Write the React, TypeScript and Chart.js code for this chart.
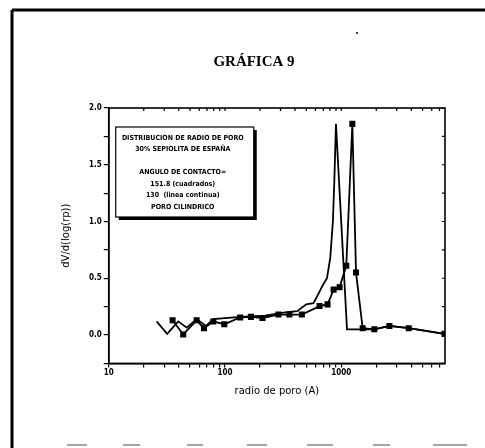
import React, { useEffect, useRef } from "react";
import { Chart, registerables } from "chart.js";

Chart.register(...registerables);

const TITLE = "GRÁFICA 9";
const X_TITLE = "radio de poro (A)";
const Y_TITLE = "dV/d(log(rp))";
const LEGEND_LINES = [
  "DISTRIBUCION DE RADIO DE PORO",
  "30% SEPIOLITA DE ESPAÑA",
  "",
  "ANGULO DE CONTACTO=",
  "151.8 (cuadrados)",
  "130  (linea continua)",
  "PORO CILINDRICO",
];

// continuous line (contact angle 130)
const lineRadius = [25.8, 31.8, 39.6, 46.8, 57, 68.6, 79.3, 135, 221, 329, 418, 499, 577, 634, 686, 753, 804, 847, 871, 900, 1120, 1508, 1923, 2594, 3802, 7727];
const lineValues = [0.12, 0.01, 0.12, 0.065, 0.14, 0.08, 0.14, 0.16, 0.17, 0.2, 0.21, 0.27, 0.28, 0.36, 0.43, 0.5, 0.68, 1.0, 1.35, 1.86, 0.05, 0.05, 0.05, 0.08, 0.06, 0.01];

// squares (contact angle 151.8)
const squareRadius = [35.4, 43.7, 57, 65.9, 79.3, 98.6, 135, 167, 210, 288, 358, 458, 650, 762, 859, 967, 1104, 1245, 1339, 1527, 1923, 2594, 3802, 7727];
const squareValues = [0.13, 0.005, 0.13, 0.06, 0.12, 0.095, 0.155, 0.16, 0.15, 0.18, 0.18, 0.18, 0.255, 0.27, 0.4, 0.42, 0.61, 1.86, 0.55, 0.06, 0.05, 0.08, 0.06, 0.01];

const X_TICKS = [10, 20, 30, 40, 50, 60, 70, 80, 90, 100, 200, 300, 400, 500, 600, 700, 800, 900, 1000, 2000, 3000, 4000, 5000, 6000, 7000];
const X_LABELS = [10, 100, 1000];
const Y_TICKS = [-0.25, 0, 0.25, 0.5, 0.75, 1, 1.25, 1.5, 1.75, 2];
const Y_LABELS = [0, 0.5, 1, 1.5, 2];

const X_MIN = 10;
const X_MAX = 7800;
const Y_MIN = -0.25;
const Y_MAX = 2.0;

const decorPlugin = {
  id: "decor",
  afterDraw(chart: any) {
    const { ctx, chartArea: a } = chart;
    const xs = chart.scales.x;
    const ys = chart.scales.y;
    ctx.save();
    ctx.strokeStyle = "#000";
    ctx.fillStyle = "#000";
    // plot frame
    ctx.lineWidth = 1.6;
    ctx.strokeRect(a.left, a.top, a.right - a.left, a.bottom - a.top);
    // inward ticks top / right
    ctx.lineWidth = 1.2;
    ctx.beginPath();
    for (const v of X_TICKS) {
      const px = xs.getPixelForValue(v);
      ctx.moveTo(px, a.top);
      ctx.lineTo(px, a.top + 3);
    }
    for (const v of Y_TICKS) {
      const py = ys.getPixelForValue(v);
      ctx.moveTo(a.right, py);
      ctx.lineTo(a.right - 3, py);
    }
    ctx.stroke();

    // legend box with shadow
    const bx = a.left + 7;
    const by = a.top + 19;
    const bw = 138;
    const bh = 90;
    ctx.fillRect(bx + 3, by + 3, bw, bh);
    ctx.fillStyle = "#fff";
    ctx.fillRect(bx, by, bw, bh);
    ctx.lineWidth = 1.2;
    ctx.strokeRect(bx, by, bw, bh);
    ctx.fillStyle = "#000";
    ctx.font = "bold 7px 'DejaVu Sans Condensed', 'Liberation Sans Narrow', sans-serif";
    ctx.textAlign = "center";
    ctx.textBaseline = "middle";
    LEGEND_LINES.forEach((t, i) => {
      if (t) ctx.fillText(t, bx + bw / 2 - 2, by + 11 + i * 11.5);
    });

    // page title
    ctx.font = "bold 15px 'Liberation Serif', serif";
    ctx.textAlign = "center";
    ctx.textBaseline = "middle";
    ctx.fillText(TITLE, 254, 62);

    // page frame (scanned sheet)
    ctx.lineWidth = 3;
    ctx.beginPath();
    ctx.moveTo(12, 10);
    ctx.lineTo(485, 10);
    ctx.moveTo(12, 10);
    ctx.lineTo(12, 448);
    ctx.stroke();
    ctx.beginPath();
    ctx.arc(357, 33, 1, 0, Math.PI * 2);
    ctx.fill();
    // faint bottom dashes
    ctx.strokeStyle = "#888";
    ctx.lineWidth = 1.5;
    ctx.beginPath();
    [[67, 87], [123, 140], [187, 203], [247, 267], [307, 333], [373, 390], [433, 467]].forEach(([s, e]) => {
      ctx.moveTo(s, 445);
      ctx.lineTo(e, 445);
    });
    ctx.stroke();
    ctx.restore();
  },
};

export default function App() {
  const ref = useRef<HTMLCanvasElement | null>(null);
  useEffect(() => {
    if (!ref.current) return;
    const chart = new Chart(ref.current, {
      type: "scatter",
      data: {
        datasets: [
          {
            label: "130",
            data: lineRadius.map((x, i) => ({ x, y: lineValues[i] })),
            showLine: true,
            borderColor: "#000",
            borderWidth: 1.8,
            pointRadius: 0,
            tension: 0,
          },
          {
            label: "151.8",
            data: squareRadius.map((x, i) => ({ x, y: squareValues[i] })),
            showLine: true,
            borderColor: "#000",
            backgroundColor: "#000",
            borderWidth: 1.8,
            pointStyle: "rect",
            pointRadius: 3,
            tension: 0,
          },
        ],
      },
      options: {
        animation: false,
        responsive: false,
        maintainAspectRatio: false,
        layout: { padding: { left: 56, top: 108, right: 40, bottom: 47 } },
        plugins: { legend: { display: false }, tooltip: { enabled: false } },
        scales: {
          x: {
            type: "logarithmic",
            min: X_MIN,
            max: X_MAX,
            afterBuildTicks: (s: any) => {
              s.ticks = X_TICKS.map((v) => ({ value: v }));
            },
            ticks: {
              autoSkip: false,
              maxRotation: 0,
              color: "#000",
              font: { family: "'DejaVu Sans Condensed', sans-serif", size: 8, weight: "bold" },
              padding: 1,
              callback: (v: any) => (X_LABELS.includes(Number(v)) ? String(v) : ""),
            },
            grid: { drawOnChartArea: false, tickLength: 4, color: "#000", lineWidth: 1.2 },
            border: { color: "#000", width: 1.6 },
            title: {
              display: true,
              text: X_TITLE,
              color: "#000",
              font: { family: "'DejaVu Sans', sans-serif", size: 10 },
              padding: { top: 6 },
            },
          },
          y: {
            min: Y_MIN,
            max: Y_MAX,
            afterBuildTicks: (s: any) => {
              s.ticks = Y_TICKS.map((v) => ({ value: v }));
            },
            ticks: {
              autoSkip: false,
              color: "#000",
              font: { family: "'DejaVu Sans Condensed', sans-serif", size: 8, weight: "bold" },
              padding: 2,
              callback: (v: any) => (Y_LABELS.some((l) => Math.abs(l - Number(v)) < 1e-6) ? Number(v).toFixed(1) : ""),
            },
            grid: { drawOnChartArea: false, tickLength: 5, color: "#000", lineWidth: 1.2 },
            border: { color: "#000", width: 1.6 },
            title: {
              display: true,
              text: Y_TITLE,
              color: "#000",
              font: { family: "'DejaVu Sans', sans-serif", size: 10 },
              padding: { bottom: 15 },
            },
          },
        },
      },
      plugins: [decorPlugin],
    });
    return () => chart.destroy();
  }, []);
  return (
    <div style={{ position: "absolute", left: 0, top: 0, width: 485, height: 448, background: "#fff" }}>
      <canvas ref={ref} width={485} height={448} style={{ display: "block" }} />
    </div>
  );
}
